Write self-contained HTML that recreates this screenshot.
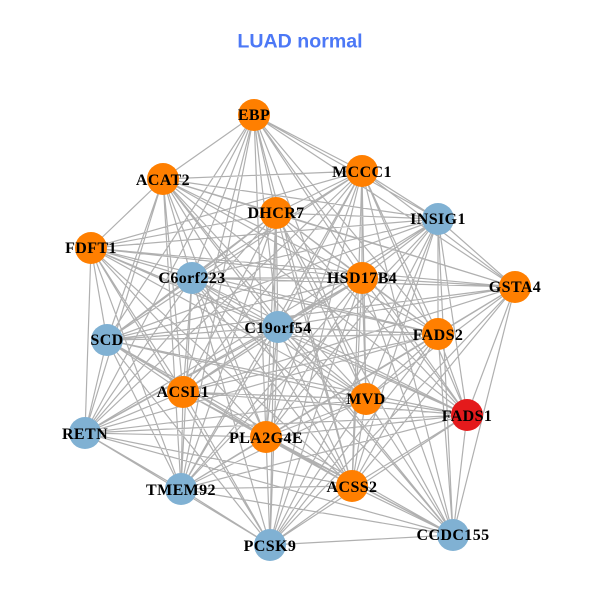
<!DOCTYPE html>
<html><head><meta charset="utf-8"><style>html,body{margin:0;padding:0;background:#fff}svg{display:block}</style></head><body>
<svg width="600" height="600" viewBox="0 0 600 600" xmlns="http://www.w3.org/2000/svg">
<rect width="600" height="600" fill="#fff"/>
<path fill="none" stroke="#b0b0b0" stroke-width="1.2" d="
M254 115L163 179M254 115L276 213M254 115L192 278M254 115L362 171M254 115L438 219M254 115L362 278M254 115L515 287M254 115L438 334M254 115L278 327M254 115L107 340M254 115L183 392M254 115L85 433M254 115L266 437M254 115L181 489M254 115L270 545M254 115L366 399M254 115L467 415M254 115L352 486
M163 179L276 213M163 179L91 248M163 179L192 278M163 179L362 171M163 179L438 219M163 179L362 278M163 179L515 287M163 179L438 334M163 179L278 327M163 179L107 340M163 179L183 392M163 179L85 433M163 179L266 437M163 179L181 489M163 179L270 545M163 179L366 399M163 179L467 415M163 179L352 486M163 179L453 535
M276 213L91 248M276 213L192 278M276 213L362 171M276 213L438 219M276 213L362 278M276 213L515 287M276 213L438 334M276 213L278 327M276 213L107 340M276 213L183 392M276 213L85 433M276 213L266 437M276 213L181 489M276 213L270 545M276 213L366 399M276 213L467 415M276 213L352 486M276 213L453 535
M91 248L192 278M91 248L362 171M91 248L438 219M91 248L362 278M91 248L515 287M91 248L438 334M91 248L278 327M91 248L107 340M91 248L183 392M91 248L85 433M91 248L266 437M91 248L181 489M91 248L270 545M91 248L366 399M91 248L467 415M91 248L352 486
M192 278L362 171M192 278L438 219M192 278L362 278M192 278L515 287M192 278L438 334M192 278L278 327M192 278L107 340M192 278L183 392M192 278L85 433M192 278L266 437M192 278L181 489M192 278L270 545M192 278L366 399M192 278L467 415M192 278L352 486M192 278L453 535
M362 171L438 219M362 171L362 278M362 171L515 287M362 171L438 334M362 171L278 327M362 171L107 340M362 171L183 392M362 171L85 433M362 171L266 437M362 171L181 489M362 171L270 545M362 171L366 399M362 171L467 415M362 171L352 486M362 171L453 535
M438 219L362 278M438 219L515 287M438 219L438 334M438 219L278 327M438 219L107 340M438 219L183 392M438 219L85 433M438 219L266 437M438 219L181 489M438 219L270 545M438 219L366 399M438 219L467 415M438 219L352 486M438 219L453 535
M362 278L515 287M362 278L438 334M362 278L278 327M362 278L107 340M362 278L183 392M362 278L85 433M362 278L266 437M362 278L181 489M362 278L270 545M362 278L366 399M362 278L467 415M362 278L352 486M362 278L453 535
M515 287L438 334M515 287L278 327M515 287L107 340M515 287L183 392M515 287L266 437M515 287L181 489M515 287L270 545M515 287L366 399M515 287L467 415M515 287L352 486M515 287L453 535
M438 334L278 327M438 334L107 340M438 334L183 392M438 334L85 433M438 334L266 437M438 334L181 489M438 334L270 545M438 334L366 399M438 334L467 415M438 334L352 486M438 334L453 535
M278 327L107 340M278 327L183 392M278 327L85 433M278 327L266 437M278 327L181 489M278 327L270 545M278 327L366 399M278 327L467 415M278 327L352 486M278 327L453 535
M107 340L183 392M107 340L85 433M107 340L266 437M107 340L181 489M107 340L270 545M107 340L366 399M107 340L467 415M107 340L352 486M107 340L453 535
M183 392L85 433M183 392L266 437M183 392L181 489M183 392L270 545M183 392L366 399M183 392L467 415M183 392L352 486M183 392L453 535
M85 433L266 437M85 433L181 489M85 433L270 545M85 433L366 399M85 433L467 415M85 433L352 486M85 433L453 535
M266 437L181 489M266 437L270 545M266 437L366 399M266 437L467 415M266 437L352 486M266 437L453 535
M181 489L270 545M181 489L366 399M181 489L467 415M181 489L352 486M181 489L453 535
M270 545L366 399M270 545L467 415M270 545L352 486M270 545L453 535
M366 399L467 415M366 399L352 486M366 399L453 535
M467 415L352 486M467 415L453 535
M352 486L453 535"/>
<g fill="#ff7f00">
<circle cx="254" cy="115" r="16"/><circle cx="163" cy="179" r="16"/><circle cx="276" cy="213" r="16"/><circle cx="91" cy="248" r="16"/><circle cx="362" cy="171" r="16"/><circle cx="362" cy="278" r="16"/><circle cx="515" cy="287" r="16"/><circle cx="438" cy="334" r="16"/><circle cx="183" cy="392" r="16"/><circle cx="266" cy="437" r="16"/><circle cx="366" cy="399" r="16"/><circle cx="352" cy="486" r="16"/>
</g>
<g fill="#80b1d3">
<circle cx="192" cy="278" r="16"/><circle cx="438" cy="219" r="16"/><circle cx="278" cy="327" r="16"/><circle cx="107" cy="340" r="16"/><circle cx="85" cy="433" r="16"/><circle cx="181" cy="489" r="16"/><circle cx="270" cy="545" r="16"/><circle cx="453" cy="535" r="16"/>
</g>
<circle cx="467" cy="415" r="16" fill="#e41a1c"/>
<g font-family="'Liberation Serif',serif" font-weight="700" font-size="16" fill="#000" text-anchor="middle" letter-spacing="0.4">
<text x="254" y="120">EBP</text>
<text x="163" y="185">ACAT2</text>
<text x="276" y="218">DHCR7</text>
<text x="91" y="253">FDFT1</text>
<text x="192" y="283">C6orf223</text>
<text x="362" y="177">MCCC1</text>
<text x="438" y="224">INSIG1</text>
<text x="362" y="283">HSD17B4</text>
<text x="515" y="292">GSTA4</text>
<text x="438" y="340">FADS2</text>
<text x="278" y="333">C19orf54</text>
<text x="107" y="345">SCD</text>
<text x="183" y="397">ACSL1</text>
<text x="85" y="439">RETN</text>
<text x="266" y="443">PLA2G4E</text>
<text x="181" y="495">TMEM92</text>
<text x="270" y="551">PCSK9</text>
<text x="366" y="404">MVD</text>
<text x="467" y="421">FADS1</text>
<text x="352" y="492">ACSS2</text>
<text x="453" y="540">CCDC155</text>
</g>
<text x="300" y="47.5" font-family="'Liberation Sans',sans-serif" font-weight="700" font-size="19.6" fill="#4c78f6" text-anchor="middle">LUAD normal</text>
</svg>
</body></html>
